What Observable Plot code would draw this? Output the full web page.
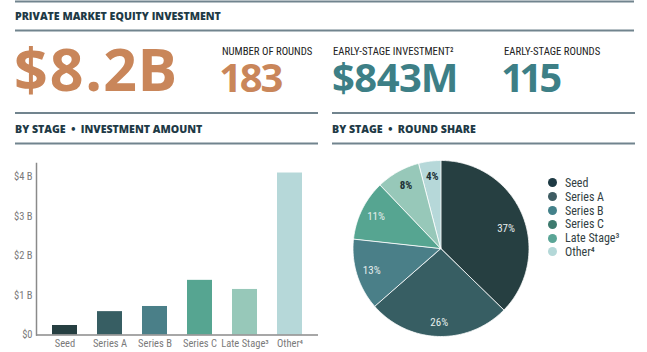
<!DOCTYPE html>
<html>
<head>
<meta charset="utf-8">
<script src="https://cdn.jsdelivr.net/npm/d3@7"></script>
<script src="https://cdn.jsdelivr.net/npm/@observablehq/plot@0.6"></script>
<style>
  html, body { margin: 0; padding: 0; background: #fff; }
  #wrap { position: relative; width: 647px; height: 352px; overflow: hidden; }
  .abs { position: absolute; }
  #legend { position: absolute; left: 548px; top: 176px; font-family: "Liberation Sans Narrow", "Roboto Condensed", "DejaVu Sans Condensed", Roboto, sans-serif; font-size: 12px; color: #333f44; }
  #legend .row { display: flex; align-items: center; height: 13.8px; }
  #legend .dot { width: 9px; height: 9px; border-radius: 50%; margin-right: 8px; }
  .num { font-variant-numeric: proportional-nums; font-feature-settings: "pnum" 1; }
</style>
</head>
<body>
<div id="wrap">
  <div id="header" class="abs" style="left:0;top:0"></div>
  <div id="bar" class="abs" style="left:0;top:150px"></div>
  <div id="pie" class="abs" style="left:330px;top:150px"></div>
  <div id="legend"></div>
</div>
<script>
// ---- data ----
const stages = ["Seed", "Series A", "Series B", "Series C", "Late Stage³", "Other⁴"];
const amountsB = [0.24, 0.59, 0.72, 1.38, 1.15, 4.09];      // investment amount, $ billions
const roundShare = [37, 26, 13, 11, 8, 4];                   // % of rounds
const yTicks = [0, 1, 2, 3, 4];
const kpiLabels = ["NUMBER OF ROUNDS", "EARLY-STAGE INVESTMENT²", "EARLY-STAGE ROUNDS"];
const kpiValues = ["183", "$843M", "115"];
const headlineValue = "$8.2B";
const titleText = "PRIVATE MARKET EQUITY INVESTMENT";
const sectionTitles = ["BY STAGE  •  INVESTMENT AMOUNT", "BY STAGE  •  ROUND SHARE"];

// ---- styles ----
const stageColors = ["#263f41", "#375e63", "#4a7f88", "#56a591", "#97c8b9", "#b6d8d9"];
const legendColors = ["#1e3a44", "#3e5c63", "#43818a", "#3d7a6e", "#5aa596", "#b4d8d8"];
const condensed = '"Liberation Sans Narrow", "Roboto Condensed", "DejaVu Sans Condensed", Roboto, sans-serif';
const boldFont = '"Open Sans", "Noto Sans", sans-serif';
const ruleColor = "#71848e";
const navy = "#1e3a46";
const orange = "#c9865a";
const teal = "#3d7f86";

// ---- header (SVG text) ----
const hdr = d3.select("#header").append("svg").attr("width", 647).attr("height", 150);
const rule = (x1, x2, y) => hdr.append("line").attr("x1", x1).attr("x2", x2).attr("y1", y).attr("y2", y)
  .attr("stroke", ruleColor).attr("stroke-width", 2);
rule(15, 634, 1.5);
rule(15, 634, 30.5);
rule(15, 318, 113);
rule(15, 318, 143.5);
rule(332, 635, 113);
rule(332, 635, 143.5);
const txt = (x, y, s, size, fill, family, weight, ls) => hdr.append("text").attr("x", x).attr("y", y)
  .attr("font-family", family).attr("font-size", size).attr("font-weight", weight)
  .attr("fill", fill).attr("letter-spacing", ls || 0).style("white-space", "pre").text(s);
txt(15, 20, titleText, 10.6, navy, boldFont, 800, 0);
txt(14, 91, headlineValue, 59, orange, boldFont, 700, 1.2).attr("class", "num");
const kpiX = [222, 333, 504];
const kpiColors = [orange, teal, teal];
kpiLabels.forEach((l, i) => txt(kpiX[i], 55, l, 10.7, "#222", condensed, 400, 0));
kpiValues.forEach((v, i) => txt(kpiX[i] - 1, 92, v, 40, kpiColors[i], boldFont, 700, i === 1 ? -1 : -2.5).attr("class", "num"));
txt(15, 133, sectionTitles[0], 10.6, navy, boldFont, 800, 0);
txt(332, 133, sectionTitles[1], 10.6, navy, boldFont, 800, 0);

// ---- bar chart ----
const barData = stages.map((s, i) => ({stage: s, amount: amountsB[i]}));
const bar = Plot.plot({
  width: 330, height: 202,
  marginLeft: 36, marginRight: 12, marginTop: 13, marginBottom: 17.5,
  style: {fontFamily: condensed, fontSize: "10.5px", color: "#7a7a7a", background: "transparent"},
  x: {domain: stages, paddingInner: 0.45, paddingOuter: 0.34, label: null, tickSize: 0, tickPadding: 5},
  y: {domain: [0, 4.33], ticks: yTicks, label: null, tickSize: 0, tickPadding: 4,
      tickFormat: d => d === 0 ? "$0" : `$${d} B`},
  color: {domain: stages, range: stageColors},
  marks: [
    Plot.barY(barData, {x: "stage", y: "amount", fill: "stage"}),
    Plot.ruleY([0], {stroke: "#8a8a8a", strokeWidth: 1.5}),
    Plot.frame({anchor: "left", stroke: "#8a8a8a", strokeWidth: 1.5})
  ]
});
document.getElementById("bar").append(bar);

// ---- pie chart ----
const pieData = stages.map((s, i) => ({stage: s, share: roundShare[i]}));
const arcs = d3.pie().sort(null).value(d => d.share)(pieData);
const slicePts = arcs.flatMap(a => {
  const n = Math.max(2, Math.ceil((a.endAngle - a.startAngle) / (Math.PI / 180)));
  return d3.range(n + 1).map(k => {
    const t = a.startAngle + (a.endAngle - a.startAngle) * k / n;
    return {stage: a.data.stage, x1: 0, y1: 0, x2: Math.sin(t), y2: Math.cos(t)};
  });
});
const labels = arcs.map((a, i) => {
  const m = (a.startAngle + a.endAngle) / 2 + (i === 0 ? 0.09 : 0);
  const k = i === 0 ? 0.77 : 0.83;
  return {x: k * Math.sin(m), y: k * Math.cos(m), label: a.data.share + "%", light: i >= 4};
});
const cx = 111, cy = 98.5, r = 88;
const pie = Plot.plot({
  width: 317, height: 202, margin: 0,
  style: {fontFamily: condensed, background: "transparent"},
  x: {domain: [-1, 1], range: [cx - r, cx + r], axis: null},
  y: {domain: [-1, 1], range: [cy + r, cy - r], axis: null},
  color: {domain: stages, range: stageColors},
  marks: [
    Plot.area(slicePts, {x1: "x1", y1: "y1", x2: "x2", y2: "y2", z: "stage", fill: "stage",
      stroke: "white", strokeWidth: 0.8}),
    Plot.text(labels.filter(d => !d.light), {x: "x", y: "y", text: "label", fill: "#e6eeed",
      fontSize: 11, fontWeight: 400}),
    Plot.text(labels.filter(d => d.light), {x: "x", y: "y", text: "label", fill: "#1f3236",
      fontSize: 11, fontWeight: 700})
  ]
});
document.getElementById("pie").append(pie);

// ---- legend ----
const leg = d3.select("#legend");
stages.forEach((s, i) => {
  const row = leg.append("div").attr("class", "row");
  row.append("div").attr("class", "dot").style("background", legendColors[i]);
  row.append("span").text(s);
});
</script>
</body>
</html>
